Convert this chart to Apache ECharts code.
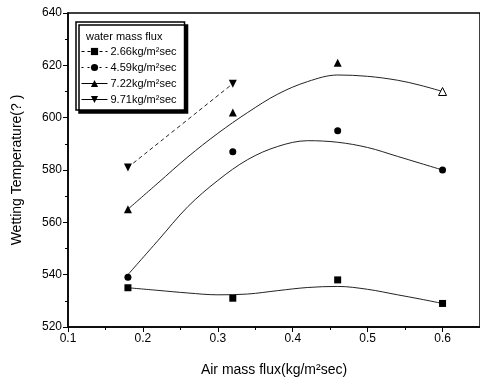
<!DOCTYPE html>
<html>
<head>
<meta charset="utf-8">
<script src="https://cdn.jsdelivr.net/npm/echarts@6/dist/echarts.min.js"></script>
<style>
  html, body { margin: 0; padding: 0; background: #fff; }
  #main { width: 480px; height: 385px; }
</style>
</head>
<body>
<div id="main"></div>
<script>
// measured points (air mass flux vs wetting temperature)
const airFlux = [0.18, 0.32, 0.46, 0.6];
const flux266 = [535, 531, 538, 529];
const flux459 = [539, 587, 595, 580];
const flux722 = [565, 602, 621, 610];
const flux971 = [581, 613];

// fit curves
const fitX = [0.18, 0.22, 0.26, 0.3, 0.34, 0.38, 0.42, 0.46, 0.5, 0.54, 0.57, 0.6];
const fit266 = [535, 534, 533, 532.3, 532.6, 533.9, 535.1, 535.5, 534.4, 532.3, 530.7, 529];
const fit459 = [540, 553, 566, 576, 584, 589, 591.2, 590.6, 588.6, 585.2, 582.6, 580];
const fit722 = [565, 575, 585, 594, 602, 609, 613.8, 616.3, 615.8, 614.3, 612.4, 610];
const fit971X = [0.18, 0.32];
const fit971 = [581, 613];

const xTicks = [0.1, 0.2, 0.3, 0.4, 0.5, 0.6];
const yTicks = [520, 540, 560, 580, 600, 620, 640];

const names = ["2.66kg/m²sec", "4.59kg/m²sec", "7.22kg/m²sec", "9.71kg/m²sec"];

const pair = (xs, ys) => ys.map((v, i) => [xs[i], v]);

const chartDom = document.getElementById("main");
const myChart = echarts.init(chartDom);

const font = "Arial, 'Liberation Sans', sans-serif";

function markerSeries(name, xs, ys, symbol, size, rotate) {
  return {
    name: name,
    type: "line",
    data: pair(xs, ys),
    symbol: symbol,
    symbolSize: size,
    symbolRotate: rotate || 0,
    lineStyle: { opacity: 0 },
    itemStyle: { color: "#000" },
    z: 5,
  };
}

function fitSeries(xs, ys, type) {
  return {
    type: "line",
    data: pair(xs, ys),
    smooth: 0.35,
    symbol: "none",
    lineStyle: { color: "#222", width: 1, type: type },
    z: 3,
    silent: true,
  };
}

const s722 = markerSeries(names[2], airFlux, flux722, "triangle", 8);
// last point of 7.22 is drawn hollow
s722.data[3] = {
  value: s722.data[3],
  itemStyle: { color: "#fff", borderColor: "#000", borderWidth: 1 },
};

const option = {
  animation: false,
  title: {
    text: "water mass flux",
    left: 81,
    top: 26,
    textStyle: { fontSize: 11, fontWeight: "normal", color: "#000", fontFamily: font },
  },
  legend: {
    left: 76,
    top: 22,
    orient: "vertical",
    padding: [24, 8, 5, 5],
    itemGap: 5,
    itemWidth: 26,
    itemHeight: 9,
    backgroundColor: "#fff",
    borderColor: "#000",
    borderWidth: 1.5,
    borderRadius: 0,
    shadowColor: "#000",
    shadowBlur: 0,
    shadowOffsetX: 3,
    shadowOffsetY: 3,
    textStyle: { fontSize: 11, color: "#000", fontFamily: font, padding: [0, 0, 0, -2] },
    lineStyle: { opacity: 1, width: 1, color: "#000" },
    data: [
      { name: names[0], lineStyle: { type: [3, 3] } },
      { name: names[1], lineStyle: { type: [2, 4] } },
      { name: names[2], lineStyle: { type: "solid" } },
      { name: names[3], lineStyle: { type: "solid" } },
    ],
  },
  grid: {
    left: 68,
    top: 13,
    right: -2,
    bottom: 58,
    show: true,
    borderColor: "#000",
    borderWidth: 1.5,
  },
  xAxis: {
    type: "value",
    min: 0.1,
    max: 0.65,
    interval: 0.1,
    name: "Air mass flux(kg/m²sec)",
    nameLocation: "middle",
    nameGap: 36,
    nameTextStyle: { fontSize: 14, color: "#000", fontFamily: font },
    axisLine: { lineStyle: { color: "#000", width: 1.5 } },
    axisTick: { inside: false, length: 5, lineStyle: { color: "#000" } },
    minorTick: { show: true, splitNumber: 2, length: 3, lineStyle: { color: "#000" } },
    splitLine: { show: false },
    axisLabel: {
      color: "#000",
      fontSize: 12,
      fontFamily: font,
      margin: 6,
      showMaxLabel: false,
      formatter: (v) => (xTicks.some((t) => Math.abs(t - v) < 1e-6) ? v.toFixed(1) : ""),
    },
  },
  yAxis: {
    type: "value",
    min: yTicks[0],
    max: yTicks[yTicks.length - 1],
    interval: 20,
    name: "Wetting Temperature(? )",
    nameLocation: "middle",
    nameGap: 44,
    nameTextStyle: { fontSize: 14, color: "#000", fontFamily: font },
    axisLine: { lineStyle: { color: "#000", width: 1.5 } },
    axisTick: { inside: false, length: 5, lineStyle: { color: "#000" } },
    minorTick: { show: true, splitNumber: 2, length: 3, lineStyle: { color: "#000" } },
    splitLine: { show: false },
    axisLabel: { color: "#000", fontSize: 12, fontFamily: font, margin: 6 },
  },
  series: [
    fitSeries(fitX, fit266, "solid"),
    fitSeries(fitX, fit459, "solid"),
    fitSeries(fitX, fit722, "solid"),
    fitSeries(fit971X, fit971, [4, 3]),
    markerSeries(names[0], airFlux, flux266, "rect", 7),
    markerSeries(names[1], airFlux, flux459, "circle", 7),
    s722,
    markerSeries(names[3], airFlux, flux971, "triangle", 8, 180),
  ],
};

myChart.setOption(option);
</script>
</body>
</html>
